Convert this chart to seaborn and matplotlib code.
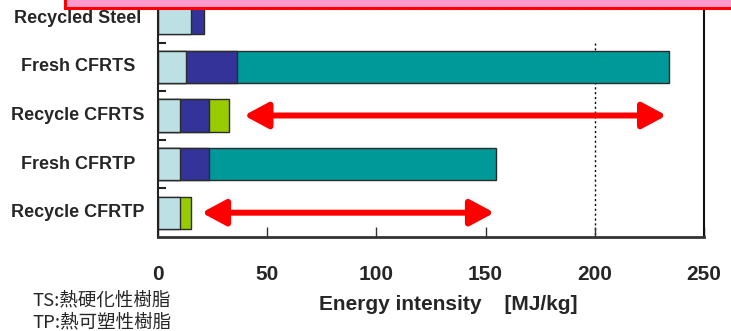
import matplotlib
matplotlib.use("Agg")
import matplotlib.pyplot as plt
from matplotlib.patches import Rectangle
from matplotlib.transforms import blended_transform_factory
import numpy as np
import pandas as pd
import seaborn as sns

# Energy intensity breakdown per material [MJ/kg]
categories = ["Recycled Steel", "Fresh CFRTS", "Recycle CFRTS", "Fresh CFRTP", "Recycle CFRTP"]
base_part = [15.0, 12.7, 10.0, 10.0, 10.0]      # light cyan segment
blue_part = [6.0, 23.3, 13.2, 13.2, 0.0]        # dark blue segment
teal_part = [0.0, 198.0, 0.0, 131.6, 0.0]       # teal segment (fresh fibre)
green_part = [0.0, 0.0, 9.4, 0.0, 5.0]          # green segment (recycling)
x_ticks = [0, 50, 100, 150, 200, 250]
arrow_rows = ["Recycle CFRTS", "Recycle CFRTP"]
arrow_from = [39.4, 20.0]
arrow_to = [232.8, 154.0]

sns.set_theme(style="white")
plt.rcParams["font.family"] = ["Liberation Sans", "DejaVu Sans"]

C_BASE = "#BCE0E3"
C_BLUE = "#333399"
C_TEAL = "#009999"
C_GREEN = "#99CC00"
EDGE = "#2b2b2b"

df = pd.DataFrame({
    "category": categories,
    "base": base_part,
    "blue": blue_part,
    "teal": teal_part,
    "green": green_part,
})
df["cum_base"] = df["base"]
df["cum_blue"] = df["base"] + df["blue"]
df["cum_teal"] = df["cum_blue"] + df["teal"]
df["cum_green"] = df["cum_blue"] + df["green"]

fig = plt.figure(figsize=(7.31, 3.31), dpi=100)
W, H = 731, 331
left_px, right_px, bottom_px, top_px = 158, 704, 237, -6
ax = fig.add_axes([left_px / W, (H - bottom_px) / H,
                   (right_px - left_px) / W, (bottom_px - top_px) / H])

bar_w = 0.66
layers = [
    ("cum_teal", "teal", C_TEAL),
    ("cum_green", "green", C_GREEN),
    ("cum_blue", "blue", C_BLUE),
    ("cum_base", "base", C_BASE),
]
for cum_col, part_col, color in layers:
    sub = df[df[part_col] > 0]
    sns.barplot(data=sub, x=cum_col, y="category", order=categories,
                orient="h", color=color, width=bar_w, edgecolor=EDGE,
                linewidth=1.0, saturation=1, ax=ax)

ax.set_xlim(0, 250)
ax.set_ylim(4.5, -0.5)

# dotted reference line at 200
ax.vlines(200, 0.5, 4.5, colors="black", linestyles=(0, (1.5, 2)), lw=1.0, zorder=0)

# double-headed arrows over the recycled rows
for row, x0, x1 in zip(arrow_rows, arrow_from, arrow_to):
    yy = categories.index(row)
    ax.annotate("", xy=(x1, yy), xytext=(x0, yy),
                arrowprops=dict(arrowstyle="<|-|>,head_length=1.45,head_width=0.78",
                                mutation_scale=10, color="#FF0000", lw=4.3,
                                shrinkA=0, shrinkB=0))

# spines
ax.spines["top"].set_visible(False)
ax.spines["left"].set_color("#222222")
ax.spines["left"].set_linewidth(1.5)
ax.spines["bottom"].set_color("#333333")
ax.spines["bottom"].set_linewidth(2.0)
ax.spines["right"].set_color("#111111")
ax.spines["right"].set_linewidth(1.5)
ax.spines["right"].set_linestyle((0, (3, 1)))

# x axis
ax.set_xticks(x_ticks)
ax.set_xticklabels([str(t) for t in x_ticks], fontsize=15, fontweight="bold")
ax.tick_params(axis="x", direction="in", length=7, width=1, color="#333333",
               pad=20, bottom=True)
ax.set_xlabel("Energy intensity    [MJ/kg]", fontsize=15, fontweight="bold")
ax.xaxis.set_label_coords((448 - left_px) / (right_px - left_px),
                          (bottom_px - 305) / (bottom_px - top_px))
ax.xaxis.label.set_verticalalignment("center")

# y axis: labels as text, small inward ticks at row boundaries
ax.set_yticks([])
ax.set_ylabel("")
ax.set_yticks(np.arange(0.5, len(categories) - 0.5, 1.0), minor=True)
ax.tick_params(axis="y", which="minor", direction="in", length=6, width=1.5,
               color="#222222", left=True)

trans = blended_transform_factory(fig.transFigure, ax.transData)
for i, cat in enumerate(categories):
    if i == 0:
        ax.text(14 / W, i, cat, transform=trans, ha="left", va="center",
                fontsize=13, fontweight="bold")
    else:
        ax.text(78 / W, i, cat, transform=trans, ha="center", va="center",
                fontsize=13, fontweight="bold")

# resin type notes
fig.text(32 / W, 1 - 300 / H, "TS:熱硬化性樹脂", fontsize=13.3, va="center", ha="left",
         family=["Noto Sans CJK JP", "DejaVu Sans"])
fig.text(32 / W, 1 - 322 / H, "TP:熱可塑性樹脂", fontsize=13.3, va="center", ha="left",
         family=["Noto Sans CJK JP", "DejaVu Sans"])

# pink banner at top edge
fig.patches.append(Rectangle((65 / W, 1 - 8 / H), (W - 65 + 20) / W, 30 / H,
                             transform=fig.transFigure, facecolor="#FF99CC",
                             edgecolor="#FF0000", lw=2.2, zorder=10))

fig.savefig("out.png", dpi=100)
